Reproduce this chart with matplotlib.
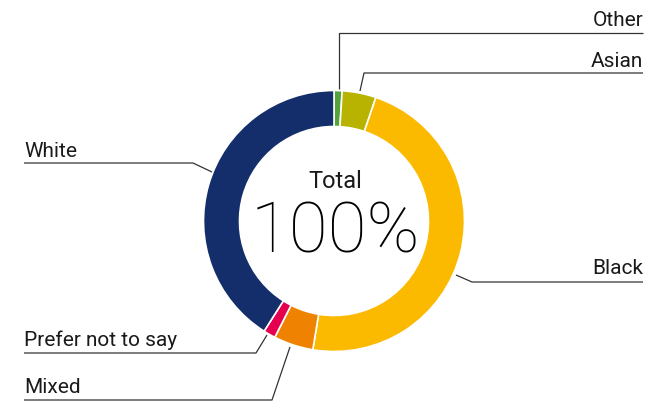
import matplotlib
matplotlib.use('Agg')
import matplotlib.pyplot as plt

## 数据：各族裔占比（%），从顶部开始顺时针
labels = ['Other', 'Asian', 'Black', 'Mixed', 'Prefer not to say', 'White']
values = [1.0, 4.2, 47.4, 4.9, 1.5, 41.0]
colors = ['#52a43a', '#b8b200', '#fbba00', '#ef8200', '#e4004f', '#132e6a']

center_title = 'Total'
center_value = '100%'

plt.rcParams['font.family'] = ['Roboto', 'DejaVu Sans']

W, H = 666, 401
fig = plt.figure(figsize=(W / 100, H / 100), dpi=100)
ax = fig.add_axes([0, 0, 1, 1])

## y轴翻转后使用像素坐标，所以逆时针 = 屏幕上的顺时针
ax.pie(values, colors=colors, radius=130.5, center=(334, 221),
       startangle=270, counterclock=True,
       wedgeprops=dict(width=36, edgecolor='white', linewidth=1.2))
ax.set_xlim(0, W)
ax.set_ylim(H, 0)
ax.set_aspect('equal')
ax.axis('off')

ax.text(335, 181, center_title, ha='center', va='center',
        fontsize=17, fontweight='normal', color='#1a1a1a')
ax.text(335, 233, center_value, ha='center', va='center',
        fontsize=51, fontweight='light', color='#000000')

## 引线：(折线点, 文字位置, 对齐方式)
leaders = {
    'Other': ([(339, 89), (339, 33), (643, 33)], (643, 26), 'right'),
    'Asian': ([(360, 91), (364, 73), (643, 73)], (643, 67), 'right'),
    'Black': ([(456, 275), (472, 282), (643, 282)], (643, 274), 'right'),
    'White': ([(212, 172), (193, 163), (24, 163)], (24, 157), 'left'),
    'Prefer not to say': ([(267, 335), (256, 353), (24, 353)], (24, 346), 'left'),
    'Mixed': ([(290, 347), (272, 400), (24, 400)], (24, 393), 'left'),
}
for name in labels:
    pts, (tx, ty), ha = leaders[name]
    xs = [p[0] for p in pts]
    ys = [p[1] for p in pts]
    ax.plot(xs, ys, color='#333333', linewidth=0.9, solid_capstyle='butt')
    ax.text(tx, ty, name, ha=ha, va='baseline', fontsize=15,
            fontweight='normal', color='#1a1a1a')

fig.savefig('out.png', dpi=100)
